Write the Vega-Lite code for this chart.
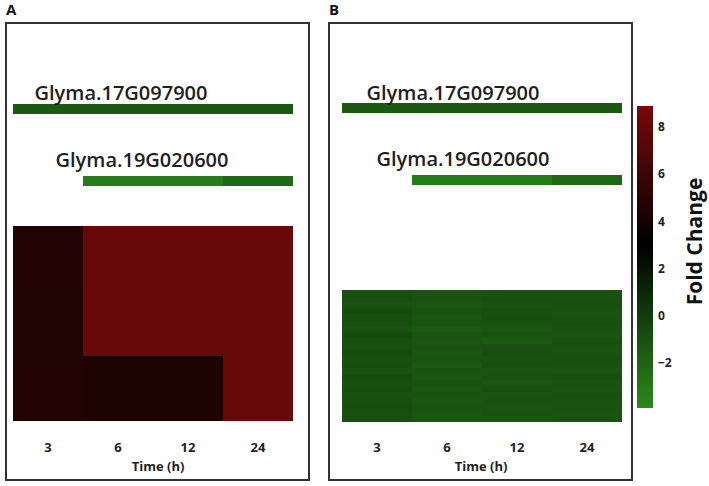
{
  "$schema": "https://vega.github.io/schema/vega-lite/v6.json",
  "padding": {"left": 5, "top": 2, "right": 6, "bottom": 0},
  "background": "white",
  "title": {"text": "Fold Change", "orient": "right", "angle": 270, "frame": "bounds", "anchor": "middle",
            "offset": -8, "font": "Open Sans", "fontSize": 21, "fontWeight": "bold", "color": "#111111"},
  "config": {
    "view": {"stroke": "#333333", "strokeWidth": 2},
    "font": "Open Sans",
    "axisX": {"offset": -43, "domain": false, "ticks": false, "grid": false, "labelAngle": 0, "labelPadding": 4,
              "labelFont": "Open Sans", "labelFontSize": 13, "labelFontWeight": "bold", "labelColor": "#1e1e1e",
              "titleFont": "Open Sans", "titleFontSize": 13, "titleFontWeight": "bold", "titleColor": "#1e1e1e",
              "titlePadding": 6, "zindex": 1}
  },
  "datasets": {
    "genesA": [
      {"gene": "Glyma.17G097900", "time": "3", "fc": -1.4},
      {"gene": "Glyma.17G097900", "time": "6", "fc": -1.4},
      {"gene": "Glyma.17G097900", "time": "12", "fc": -1.4},
      {"gene": "Glyma.17G097900", "time": "24", "fc": -1.4},
      {"gene": "Glyma.19G020600", "time": "6", "fc": -3.2},
      {"gene": "Glyma.19G020600", "time": "12", "fc": -3.2},
      {"gene": "Glyma.19G020600", "time": "24", "fc": -2.2}
    ],
    "genesB": [
      {"gene": "Glyma.17G097900", "time": "3", "fc": -1.4},
      {"gene": "Glyma.17G097900", "time": "6", "fc": -1.4},
      {"gene": "Glyma.17G097900", "time": "12", "fc": -1.4},
      {"gene": "Glyma.17G097900", "time": "24", "fc": -1.4},
      {"gene": "Glyma.19G020600", "time": "6", "fc": -3.2},
      {"gene": "Glyma.19G020600", "time": "12", "fc": -3.2},
      {"gene": "Glyma.19G020600", "time": "24", "fc": -2.2}
    ],
    "heatA": [
      {"row": "r1", "time": "3", "fc": 4.7},
      {"row": "r1", "time": "6", "fc": 8.2},
      {"row": "r1", "time": "12", "fc": 8.2},
      {"row": "r1", "time": "24", "fc": 8.2},
      {"row": "r2", "time": "3", "fc": 4.6},
      {"row": "r2", "time": "6", "fc": 8.2},
      {"row": "r2", "time": "12", "fc": 8.2},
      {"row": "r2", "time": "24", "fc": 8.2},
      {"row": "r3", "time": "3", "fc": 4.7},
      {"row": "r3", "time": "6", "fc": 4.5},
      {"row": "r3", "time": "12", "fc": 4.5},
      {"row": "r3", "time": "24", "fc": 8.2}
    ],
    "heatB": [
      {"row": "r01", "time": "3", "fc": -1.0}, {"row": "r01", "time": "6", "fc": -1.2}, {"row": "r01", "time": "12", "fc": -1.1}, {"row": "r01", "time": "24", "fc": -1.1},
      {"row": "r02", "time": "3", "fc": -0.9}, {"row": "r02", "time": "6", "fc": -1.2}, {"row": "r02", "time": "12", "fc": -1.0}, {"row": "r02", "time": "24", "fc": -1.1},
      {"row": "r03", "time": "3", "fc": -1.1}, {"row": "r03", "time": "6", "fc": -1.3}, {"row": "r03", "time": "12", "fc": -1.1}, {"row": "r03", "time": "24", "fc": -1.0},
      {"row": "r04", "time": "3", "fc": -0.8}, {"row": "r04", "time": "6", "fc": -1.1}, {"row": "r04", "time": "12", "fc": -1.0}, {"row": "r04", "time": "24", "fc": -1.2},
      {"row": "r05", "time": "3", "fc": -1.0}, {"row": "r05", "time": "6", "fc": -1.3}, {"row": "r05", "time": "12", "fc": -0.9}, {"row": "r05", "time": "24", "fc": -1.1},
      {"row": "r06", "time": "3", "fc": -0.9}, {"row": "r06", "time": "6", "fc": -1.2}, {"row": "r06", "time": "12", "fc": -1.2}, {"row": "r06", "time": "24", "fc": -1.0},
      {"row": "r07", "time": "3", "fc": -1.1}, {"row": "r07", "time": "6", "fc": -1.4}, {"row": "r07", "time": "12", "fc": -1.3}, {"row": "r07", "time": "24", "fc": -1.1},
      {"row": "r08", "time": "3", "fc": -0.8}, {"row": "r08", "time": "6", "fc": -1.2}, {"row": "r08", "time": "12", "fc": -1.1}, {"row": "r08", "time": "24", "fc": -1.2},
      {"row": "r09", "time": "3", "fc": -1.0}, {"row": "r09", "time": "6", "fc": -1.3}, {"row": "r09", "time": "12", "fc": -1.4}, {"row": "r09", "time": "24", "fc": -1.0},
      {"row": "r10", "time": "3", "fc": -0.9}, {"row": "r10", "time": "6", "fc": -1.1}, {"row": "r10", "time": "12", "fc": -1.0}, {"row": "r10", "time": "24", "fc": -1.1},
      {"row": "r11", "time": "3", "fc": -0.8}, {"row": "r11", "time": "6", "fc": -1.3}, {"row": "r11", "time": "12", "fc": -0.9}, {"row": "r11", "time": "24", "fc": -1.2},
      {"row": "r12", "time": "3", "fc": -1.0}, {"row": "r12", "time": "6", "fc": -1.2}, {"row": "r12", "time": "12", "fc": -1.1}, {"row": "r12", "time": "24", "fc": -1.0},
      {"row": "r13", "time": "3", "fc": -0.9}, {"row": "r13", "time": "6", "fc": -1.4}, {"row": "r13", "time": "12", "fc": -1.0}, {"row": "r13", "time": "24", "fc": -1.1},
      {"row": "r14", "time": "3", "fc": -1.1}, {"row": "r14", "time": "6", "fc": -1.2}, {"row": "r14", "time": "12", "fc": -1.2}, {"row": "r14", "time": "24", "fc": -1.2},
      {"row": "r15", "time": "3", "fc": -0.8}, {"row": "r15", "time": "6", "fc": -1.3}, {"row": "r15", "time": "12", "fc": -1.1}, {"row": "r15", "time": "24", "fc": -1.0},
      {"row": "r16", "time": "3", "fc": -1.0}, {"row": "r16", "time": "6", "fc": -1.1}, {"row": "r16", "time": "12", "fc": -1.3}, {"row": "r16", "time": "24", "fc": -1.1},
      {"row": "r17", "time": "3", "fc": -0.9}, {"row": "r17", "time": "6", "fc": -1.3}, {"row": "r17", "time": "12", "fc": -1.0}, {"row": "r17", "time": "24", "fc": -1.2},
      {"row": "r18", "time": "3", "fc": -1.1}, {"row": "r18", "time": "6", "fc": -1.2}, {"row": "r18", "time": "12", "fc": -1.2}, {"row": "r18", "time": "24", "fc": -1.0},
      {"row": "r19", "time": "3", "fc": -1.0}, {"row": "r19", "time": "6", "fc": -1.3}, {"row": "r19", "time": "12", "fc": -1.1}, {"row": "r19", "time": "24", "fc": -1.1},
      {"row": "r20", "time": "3", "fc": -0.9}, {"row": "r20", "time": "6", "fc": -1.2}, {"row": "r20", "time": "12", "fc": -1.2}, {"row": "r20", "time": "24", "fc": -1.1},
      {"row": "r21", "time": "3", "fc": -1.0}, {"row": "r21", "time": "6", "fc": -1.3}, {"row": "r21", "time": "12", "fc": -1.1}, {"row": "r21", "time": "24", "fc": -1.2},
      {"row": "r22", "time": "3", "fc": -0.9}, {"row": "r22", "time": "6", "fc": -1.2}, {"row": "r22", "time": "12", "fc": -1.3}, {"row": "r22", "time": "24", "fc": -1.1}
    ]
  },
  "spacing": 18,
  "resolve": {"scale": {"color": "shared"}, "legend": {"color": "shared"}},
  "hconcat": [
    {
      "title": {"text": "A", "anchor": "start", "fontSize": 15, "fontWeight": "bold", "font": "Open Sans", "offset": 5, "color": "#111111"},
      "width": 303,
      "height": 457,
      "resolve": {"scale": {"y": "independent"}},
      "layer": [
        {
          "data": {"name": "heatA"},
          "mark": {"type": "rect"},
          "encoding": {
            "x": {"field": "time", "type": "ordinal", "title": "Time (h)",
                  "scale": {"domain": ["3", "6", "12", "24"], "paddingInner": 0, "paddingOuter": 0.149, "align": 0.286, "round": true}},
            "y": {"field": "row", "type": "nominal", "axis": null,
                  "scale": {"range": [203, 398], "paddingInner": 0, "paddingOuter": 0, "round": true}},
            "color": {"field": "fc", "type": "quantitative", "title": null,
                      "scale": {"domain": [-3.9, 3, 8.9], "range": ["#2a8a1c", "#000000", "#760a0a"], "interpolate": "rgb"},
                      "legend": {"orient": "none", "legendX": 631, "legendY": 83, "direction": "vertical", "padding": 0,
                                 "title": null,
                                 "gradientLength": 302, "gradientThickness": 16, "gradientStrokeWidth": 0,
                                 "values": [-2, 0, 2, 4, 6, 8], "labelFont": "Open Sans", "labelFontWeight": "bold",
                                 "labelFontSize": 12, "labelColor": "#222222", "labelOffset": 5}}
          }
        },
        {
          "data": {"name": "genesA"},
          "layer": [
            {
              "mark": {"type": "rect"},
              "encoding": {
                "x": {"field": "time", "type": "ordinal", "title": "Time (h)"},
                "y": {"field": "gene", "type": "nominal", "axis": null,
                      "scale": {"domain": ["Glyma.17G097900", "Glyma.19G020600"], "range": [45, 200], "paddingInner": 0.861, "paddingOuter": 0.5, "round": true}},
                "color": {"field": "fc", "type": "quantitative", "title": null}
              }
            },
            {
              "transform": [{"filter": "datum.gene == 'Glyma.17G097900' && datum.time == '6'"}],
              "mark": {"type": "text", "align": "center", "baseline": "alphabetic", "dx": 3, "dy": -9,
                       "font": "Open Sans", "fontSize": 20, "fontWeight": 600, "color": "#1e1e1e"},
              "encoding": {
                "x": {"field": "time", "type": "ordinal", "title": "Time (h)"},
                "y": {"field": "gene", "type": "nominal", "axis": null},
                "text": {"field": "gene"}
              }
            },
            {
              "transform": [{"filter": "datum.gene == 'Glyma.19G020600' && datum.time == '6'"}],
              "mark": {"type": "text", "align": "center", "baseline": "alphabetic", "dx": 24, "dy": -14,
                       "font": "Open Sans", "fontSize": 20, "fontWeight": 600, "color": "#1e1e1e"},
              "encoding": {
                "x": {"field": "time", "type": "ordinal", "title": "Time (h)"},
                "y": {"field": "gene", "type": "nominal", "axis": null},
                "text": {"field": "gene"}
              }
            }
          ]
        }
      ]
    },
    {
      "title": {"text": "B", "anchor": "start", "fontSize": 15, "fontWeight": "bold", "font": "Open Sans", "offset": 5, "color": "#111111"},
      "width": 303,
      "height": 457,
      "resolve": {"scale": {"y": "independent"}},
      "layer": [
        {
          "data": {"name": "heatB"},
          "mark": {"type": "rect"},
          "encoding": {
            "x": {"field": "time", "type": "ordinal", "title": "Time (h)",
                  "scale": {"domain": ["3", "6", "12", "24"], "paddingInner": 0, "paddingOuter": 0.141, "align": 0.575, "round": true}},
            "y": {"field": "row", "type": "nominal", "axis": null,
                  "scale": {"range": [267, 399], "paddingInner": 0, "paddingOuter": 0, "round": true}},
            "color": {"field": "fc", "type": "quantitative", "title": null}
          }
        },
        {
          "data": {"name": "genesB"},
          "layer": [
            {
              "mark": {"type": "rect"},
              "encoding": {
                "x": {"field": "time", "type": "ordinal", "title": "Time (h)"},
                "y": {"field": "gene", "type": "nominal", "axis": null,
                      "scale": {"domain": ["Glyma.17G097900", "Glyma.19G020600"], "range": [44, 199], "paddingInner": 0.861, "paddingOuter": 0.5, "round": true}},
                "color": {"field": "fc", "type": "quantitative", "title": null}
              }
            },
            {
              "transform": [{"filter": "datum.gene == 'Glyma.17G097900' && datum.time == '6'"}],
              "mark": {"type": "text", "align": "center", "baseline": "alphabetic", "dx": 6, "dy": -8,
                       "font": "Open Sans", "fontSize": 20, "fontWeight": 600, "color": "#1e1e1e"},
              "encoding": {
                "x": {"field": "time", "type": "ordinal", "title": "Time (h)"},
                "y": {"field": "gene", "type": "nominal", "axis": null},
                "text": {"field": "gene"}
              }
            },
            {
              "transform": [{"filter": "datum.gene == 'Glyma.19G020600' && datum.time == '6'"}],
              "mark": {"type": "text", "align": "center", "baseline": "alphabetic", "dx": 16, "dy": -14,
                       "font": "Open Sans", "fontSize": 20, "fontWeight": 600, "color": "#1e1e1e"},
              "encoding": {
                "x": {"field": "time", "type": "ordinal", "title": "Time (h)"},
                "y": {"field": "gene", "type": "nominal", "axis": null},
                "text": {"field": "gene"}
              }
            }
          ]
        }
      ]
    }
  ]
}
